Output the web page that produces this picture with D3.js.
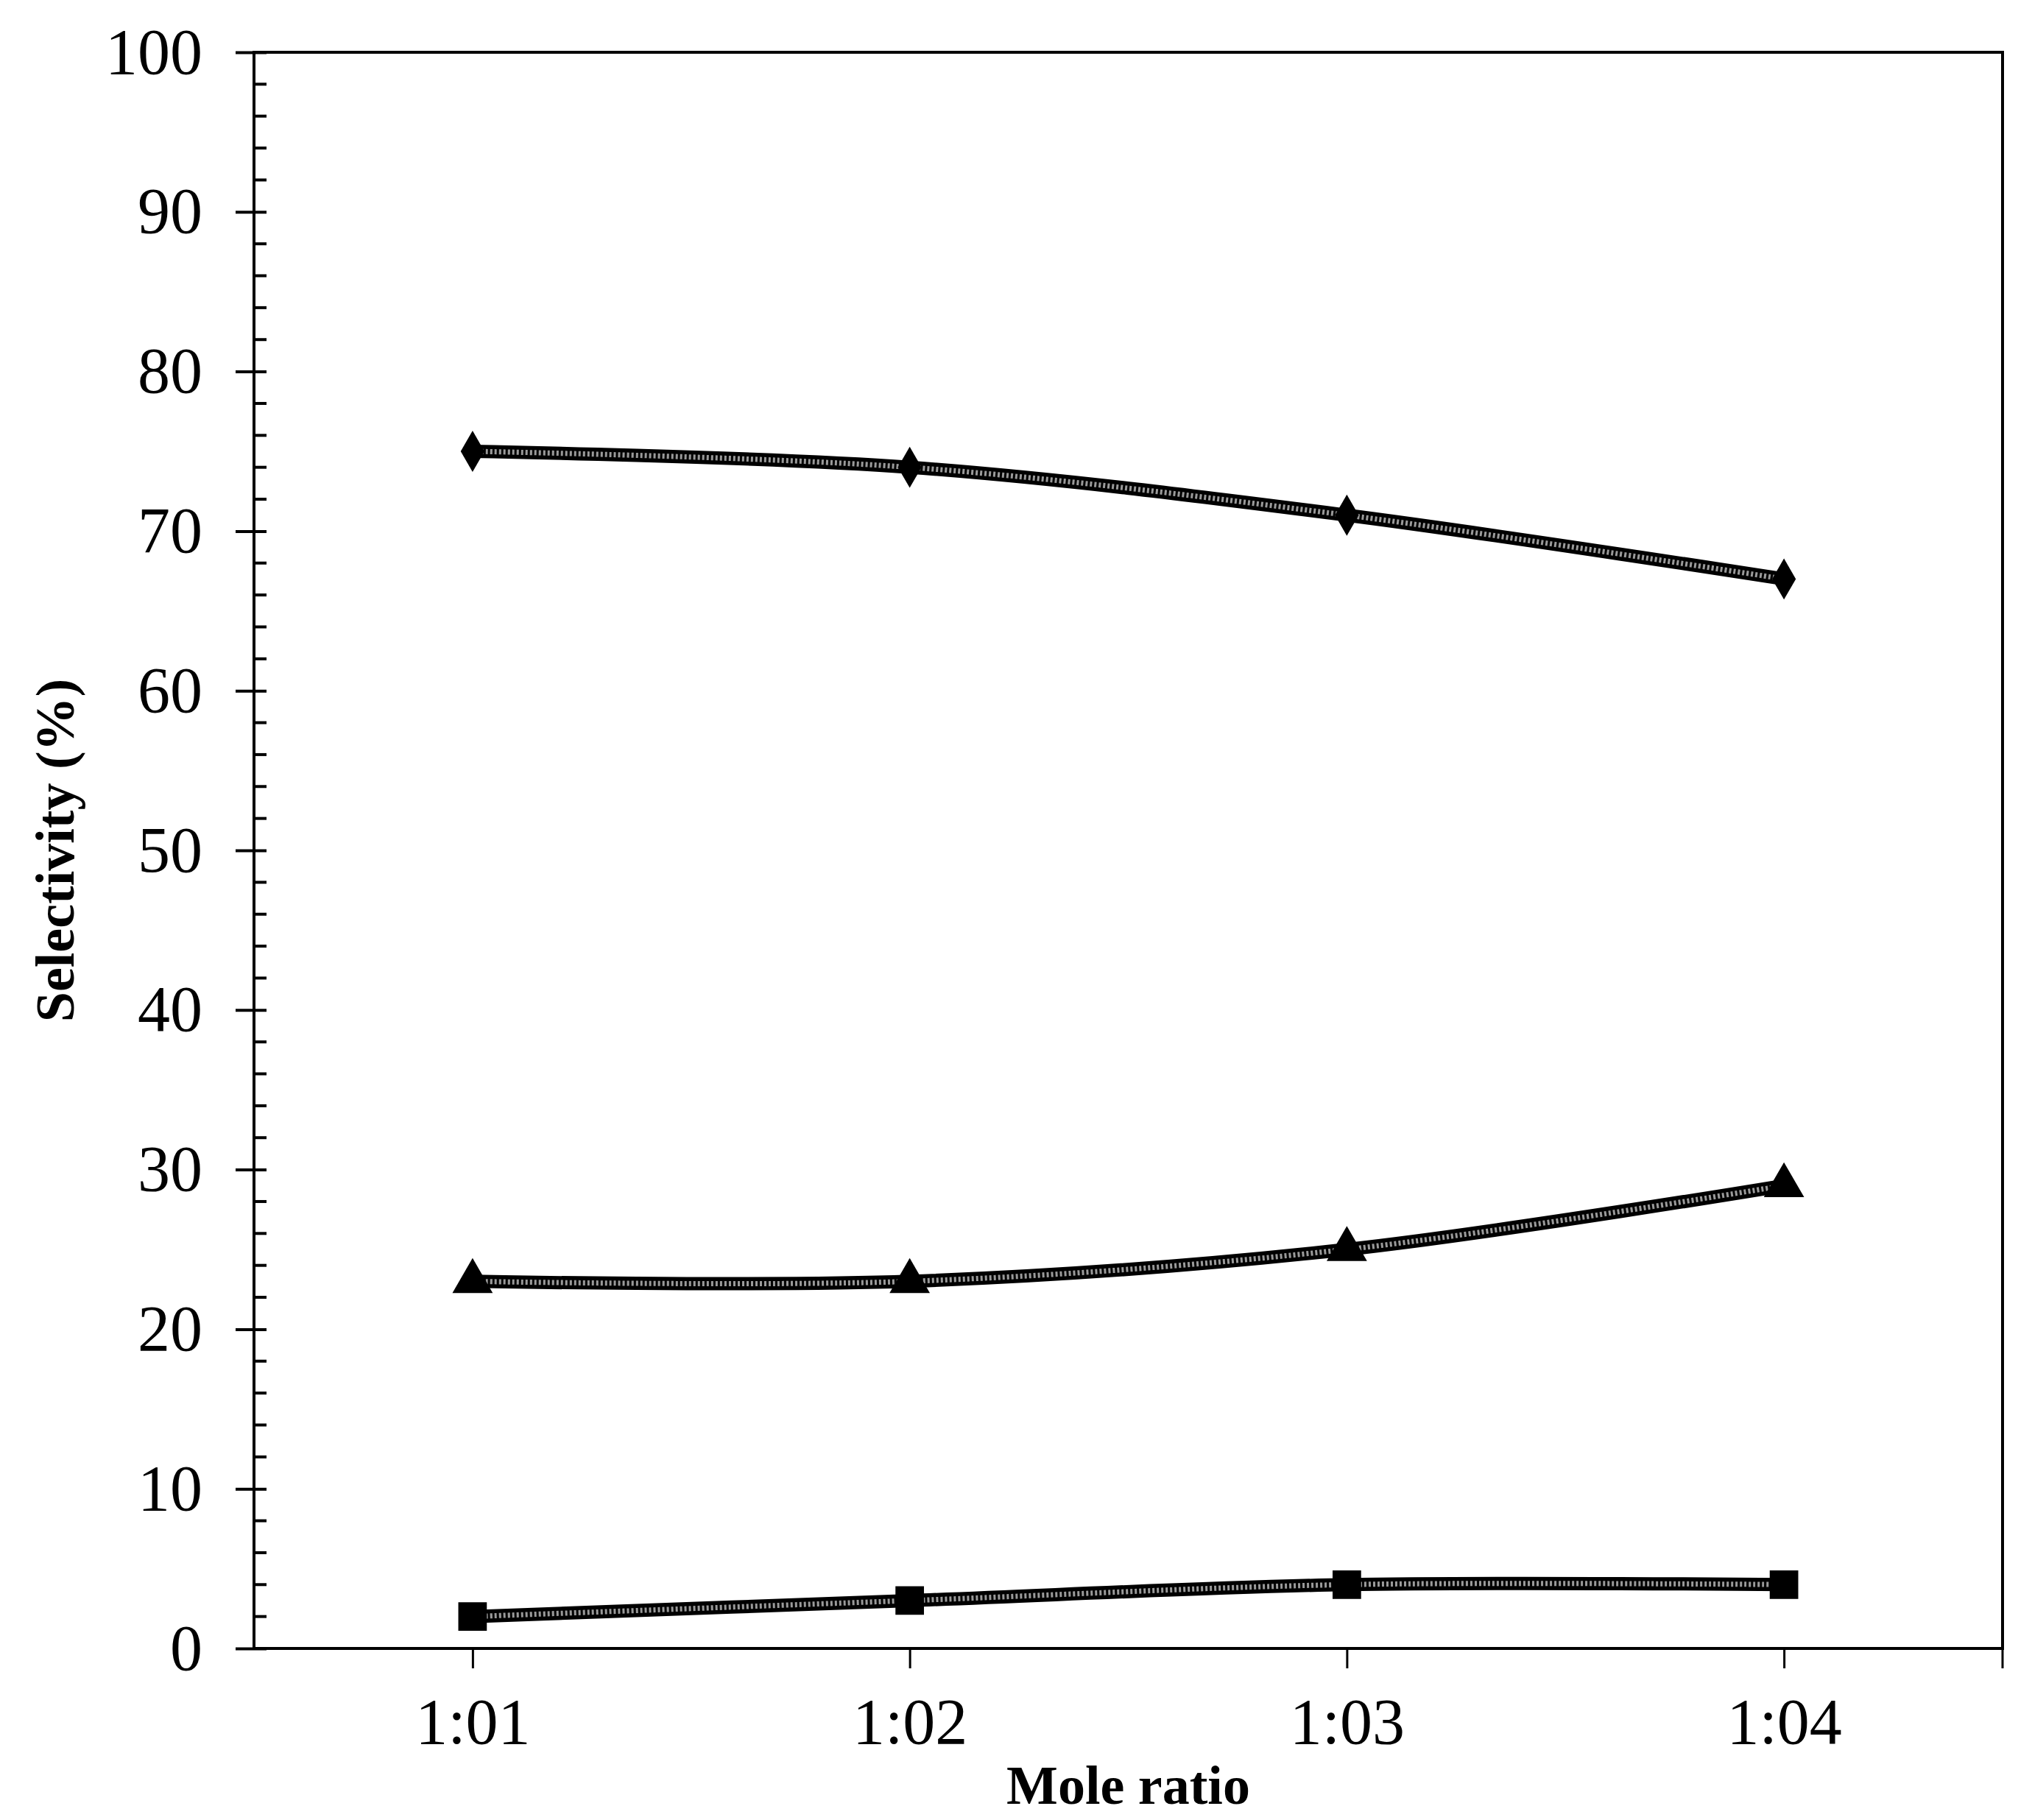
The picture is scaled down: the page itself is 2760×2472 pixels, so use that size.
<!DOCTYPE html>
<html><head><meta charset="utf-8">
<script src="https://cdn.jsdelivr.net/npm/d3@7"></script>
<style>body{margin:0;background:#fff}</style></head>
<body><svg id="c" width="2760" height="2472"></svg>
<script>
const categories = ["1:01","1:02","1:03","1:04"];
const seriesDiamond = [75,74,71,67];
const seriesTriangle = [23,23,25,29];
const seriesSquare = [2,3,4,4];
const yTicks = [0,10,20,30,40,50,60,70,80,90,100];

const svg = d3.select("#c");
const L=345,R=2720,T=71,B=2239;
const x = d3.scaleLinear().domain([0.5,4.5]).range([L,R]);
const y = d3.scaleLinear().domain([0,100]).range([B,T]);
const font = "'Liberation Serif','Times New Roman',serif";

// frame
svg.append("rect").attr("x",L).attr("y",T).attr("width",R-L).attr("height",B-T)
  .attr("fill","none").attr("stroke","#000").attr("stroke-width",4);

// y axis major
const ya = svg.append("g").attr("transform",`translate(${L},0)`)
  .call(d3.axisLeft(y).tickValues(yTicks).tickSize(25).tickPadding(45).tickFormat(d3.format("d")));
ya.select(".domain").remove();
ya.selectAll("line").attr("stroke-width",4).attr("x2",-25).attr("x1",17);
ya.selectAll("text").attr("font-family",font).attr("font-size",88).attr("fill","#000");
// minor
const minor = d3.range(2,100,2).filter(v=>v%10!==0);
svg.append("g").selectAll("line").data(minor).join("line")
  .attr("x1",L).attr("x2",L+17).attr("y1",d=>y(d)).attr("y2",d=>y(d))
  .attr("stroke","#000").attr("stroke-width",4);

// x axis
const xa = svg.append("g").attr("transform",`translate(0,${B})`)
  .call(d3.axisBottom(x).tickValues([1,2,3,4]).tickSize(27).tickPadding(40).tickFormat(d=>categories[d-1]));
xa.select(".domain").remove();
xa.selectAll("line").attr("stroke-width",3);
xa.selectAll("text").attr("font-family",font).attr("font-size",88).attr("fill","#000");
svg.append("line").attr("x1",R).attr("x2",R).attr("y1",B).attr("y2",B+27).attr("stroke","#000").attr("stroke-width",3);

// titles
svg.append("text").attr("x",x(2.5)).attr("y",2450).attr("text-anchor","middle")
  .attr("font-family",font).attr("font-weight","bold").attr("font-size",74).text("Mole ratio");
svg.append("text").attr("transform",`translate(100,${(T+B)/2}) rotate(-90)`).attr("text-anchor","middle")
  .attr("font-family",font).attr("font-weight","bold").attr("font-size",74).text("Selectivity (%)");

const line = d3.line().x((d,i)=>x(i+1)).y(d=>y(d)).curve(d3.curveCatmullRom.alpha(0.5));
const series = [[seriesDiamond,"diamond"],[seriesTriangle,"triangle"],[seriesSquare,"square"]];
series.forEach(([data,shape])=>{
  svg.append("path").attr("d",line(data)).attr("fill","none").attr("stroke","#000").attr("stroke-width",18);
  svg.append("path").attr("d",line(data)).attr("fill","none").attr("stroke","#9a9a9a").attr("stroke-width",7).attr("stroke-dasharray","3,3");
  const sym = shape==="diamond"? d3.symbol(d3.symbolDiamond,900): shape==="triangle"? d3.symbol(d3.symbolTriangle,1300): d3.symbol(d3.symbolSquare,1500);
  svg.append("g").selectAll("path").data(data).join("path")
    .attr("transform",(d,i)=>`translate(${x(i+1)},${y(d)})`).attr("d",sym).attr("fill","#000");
});
</script></body></html>
